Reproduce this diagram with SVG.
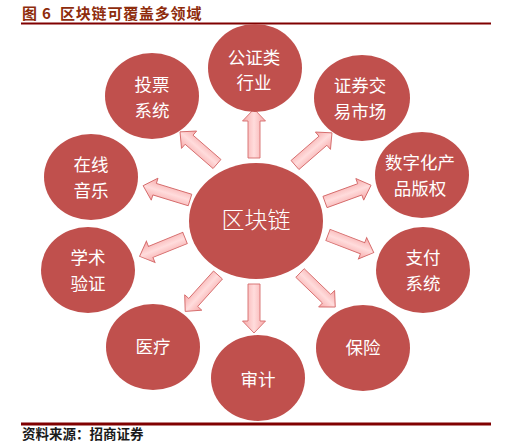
<svg xmlns="http://www.w3.org/2000/svg" width="513" height="445" viewBox="0 0 513 445">
<style>
.node{fill:#C0504D;}
.lbl{font-family:"Noto Sans CJK SC","Noto Sans",sans-serif;font-size:17.5px;fill:#FFFFFF;text-anchor:middle;}
.big{font-size:23px;font-weight:300;}
.arrow{fill:url(#ag);stroke:#D56B6B;stroke-width:0.9;}
.title{font-family:"Noto Sans CJK SC",sans-serif;font-size:15px;font-weight:bold;fill:#8E2C0C;}
.src{font-family:"Noto Sans CJK SC",sans-serif;font-size:13.5px;font-weight:bold;fill:#1a1a1a;}
</style>
<defs>
<linearGradient id="ag" x1="0" y1="0" x2="0" y2="1">
<stop offset="0" stop-color="#F6A8A8"/>
<stop offset="0.5" stop-color="#FFDCDC"/>
<stop offset="1" stop-color="#F6A8A8"/>
</linearGradient>
<path id="arr" d="M0,-6 H37 V-11.5 L49,0 L37,11.5 V6 H0 Z"/>
</defs>
<rect width="513" height="445" fill="#FFFFFF"/>
<text class="title" y="18.5"><tspan x="22">图</tspan><tspan x="42">6</tspan><tspan x="60" letter-spacing="0.8">区块链可覆盖多领域</tspan></text>
<rect x="21" y="22.5" width="470" height="2" fill="#800000"/>

<g id="connectors">
<use href="#arr" class="arrow" transform="translate(254,158) rotate(-90)"/>
<use href="#arr" class="arrow" transform="translate(217,164) rotate(-139)"/>
<use href="#arr" class="arrow" transform="translate(190,200) rotate(-163)"/>
<use href="#arr" class="arrow" transform="translate(295,165) rotate(-41)"/>
<use href="#arr" class="arrow" transform="translate(325,202) rotate(-20)"/>
<use href="#arr" class="arrow" transform="translate(185,238) rotate(158)"/>
<use href="#arr" class="arrow" transform="translate(218,275) rotate(132)"/>
<use href="#arr" class="arrow" transform="translate(254,284) rotate(90)"/>
<use href="#arr" class="arrow" transform="translate(328,235) rotate(21)"/>
<use href="#arr" class="arrow" transform="translate(300,273) rotate(44)"/>
</g>

<g id="center"><ellipse class="node" cx="256" cy="221" rx="67" ry="58"/><text class="lbl big" x="256" y="228">区块链</text></g>
<g id="n-notary"><ellipse class="node" cx="255" cy="68" rx="47" ry="44"/><text class="lbl" x="254" y="64">公证类</text><text class="lbl" x="254" y="89">行业</text></g>
<g id="n-vote"><ellipse class="node" cx="152" cy="96" rx="47" ry="43"/><text class="lbl" x="152" y="91">投票</text><text class="lbl" x="152" y="117">系统</text></g>
<g id="n-music"><ellipse class="node" cx="91" cy="177" rx="47" ry="43"/><text class="lbl" x="91" y="171">在线</text><text class="lbl" x="91" y="197">音乐</text></g>
<g id="n-stock"><ellipse class="node" cx="362" cy="98" rx="48" ry="43"/><text class="lbl" x="360" y="92">证券交</text><text class="lbl" x="360" y="118">易市场</text></g>
<g id="n-copyright"><ellipse class="node" cx="422" cy="175" rx="47" ry="43"/><text class="lbl" x="420" y="169">数字化产</text><text class="lbl" x="420" y="195">品版权</text></g>
<g id="n-academic"><ellipse class="node" cx="88" cy="270" rx="47" ry="43"/><text class="lbl" x="88" y="264">学术</text><text class="lbl" x="88" y="290">验证</text></g>
<g id="n-medical"><ellipse class="node" cx="153" cy="347" rx="47" ry="43"/><text class="lbl" x="153" y="353">医疗</text></g>
<g id="n-audit"><ellipse class="node" cx="258" cy="378" rx="47" ry="43"/><text class="lbl" x="258" y="386">审计</text></g>
<g id="n-pay"><ellipse class="node" cx="423" cy="270" rx="47" ry="43"/><text class="lbl" x="423" y="264">支付</text><text class="lbl" x="423" y="290">系统</text></g>
<g id="n-insurance"><ellipse class="node" cx="363" cy="348" rx="47" ry="43"/><text class="lbl" x="363" y="354">保险</text></g>

<rect x="21" y="422.5" width="470" height="3" fill="#800000"/>
<text class="src" x="22" y="439">资料来源：招商证券</text>
</svg>
